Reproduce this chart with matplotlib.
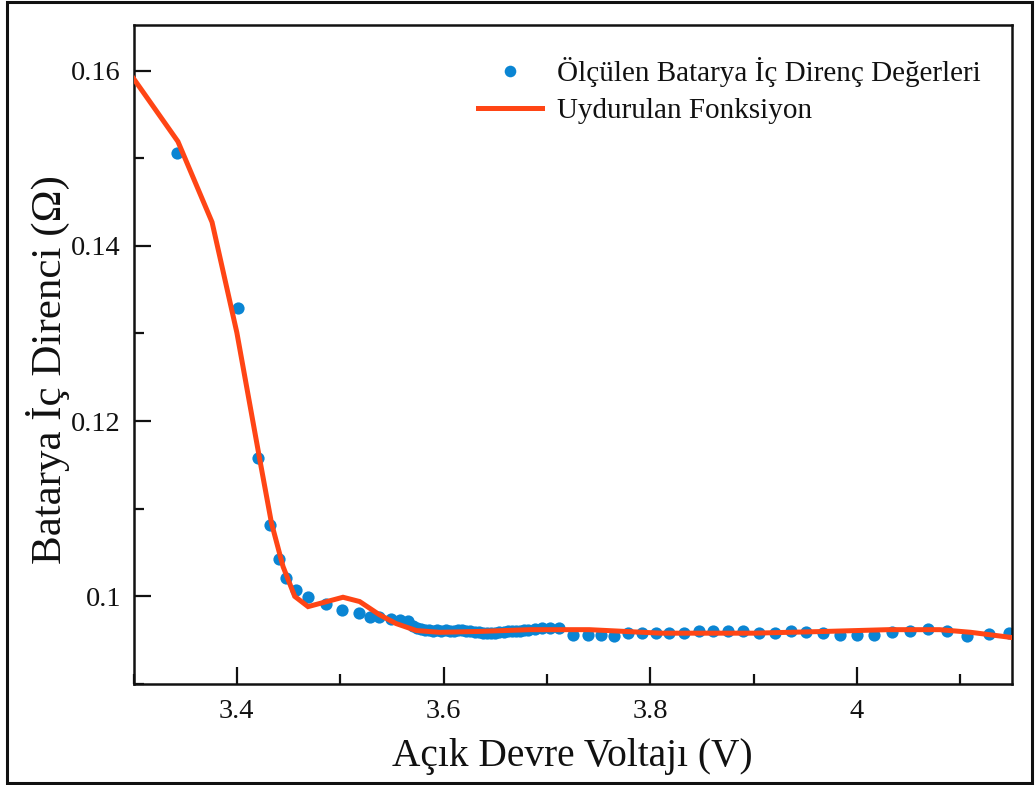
import matplotlib
matplotlib.use("Agg")
import matplotlib.pyplot as plt
from matplotlib.ticker import MultipleLocator, FuncFormatter
from matplotlib.patches import Rectangle

# Measured internal resistance vs open-circuit voltage
voltage = [
    3.342, 3.401, 3.420, 3.432, 3.441, 3.448, 3.457, 3.469, 3.486,
    3.5015, 3.518, 3.5285, 3.538, 3.5495, 3.5575, 3.566,
    3.570, 3.574, 3.578, 3.582, 3.586, 3.590, 3.594, 3.598, 3.602,
    3.606, 3.610, 3.614, 3.618, 3.622, 3.626, 3.630, 3.634, 3.638,
    3.642, 3.646, 3.650, 3.654, 3.658, 3.662, 3.666, 3.670, 3.674,
    3.678, 3.682, 3.688, 3.695, 3.703, 3.712,
    3.7256, 3.7394, 3.7524, 3.7652, 3.7787, 3.7920, 3.8055, 3.8184,
    3.8329, 3.8467, 3.8609, 3.8754, 3.8899, 3.9053, 3.9208, 3.9359,
    3.9510, 3.9675, 3.9836, 3.9997, 4.0164, 4.0335, 4.0509, 4.0689,
    4.0873, 4.1066, 4.1275, 4.1469,
]
resistance = [
    0.1506, 0.1329, 0.1158, 0.1081, 0.1043, 0.1021, 0.1007, 0.0999, 0.0991,
    0.09846, 0.09815, 0.0977, 0.09762, 0.0974, 0.0973, 0.0972,
    0.0966, 0.0964, 0.0963, 0.0962, 0.0962, 0.0961, 0.0962, 0.0961, 0.0962,
    0.0961, 0.0961, 0.0962, 0.0962, 0.0961, 0.0960, 0.0959, 0.0959, 0.0958,
    0.0958, 0.0958, 0.0958, 0.0959, 0.0959, 0.0960, 0.0960, 0.0961, 0.0961,
    0.0962, 0.0962, 0.0963, 0.0964, 0.0964, 0.0964,
    0.0956, 0.0956, 0.0956, 0.0955, 0.0958, 0.0958, 0.0958, 0.0958,
    0.0958, 0.0961, 0.0960, 0.0961, 0.0960, 0.0958, 0.0958, 0.0961,
    0.0959, 0.0958, 0.0956, 0.0956, 0.0956, 0.0959, 0.0960, 0.0963,
    0.0961, 0.0955, 0.0957, 0.0958,
]

# Fitted function evaluated on a coarse grid
fit_voltage = [
    3.300, 3.343, 3.376, 3.400, 3.4222, 3.4335, 3.4447, 3.456, 3.4689,
    3.5027, 3.5188, 3.538, 3.554, 3.5736, 3.596, 3.635, 3.683, 3.741,
    3.810, 3.900, 3.970, 4.030, 4.080, 4.110, 4.150,
]
fit_resistance = [
    0.1591, 0.1519, 0.1427, 0.1301, 0.1156, 0.10837, 0.1034, 0.1000, 0.09883,
    0.0999, 0.09941, 0.0979, 0.0969, 0.0961, 0.0959, 0.0960, 0.0962, 0.0962,
    0.0958, 0.0958, 0.0960, 0.0962, 0.0962, 0.0959, 0.0953,
]

x_label = "Açık Devre Voltajı (V)"
y_label = "Batarya İç Direnci (Ω)"
series_labels = ["Ölçülen Batarya İç Direnç Değerleri", "Uydurulan Fonksiyon"]

plt.rcParams["font.family"] = ["Liberation Serif", "DejaVu Serif"]

W, H = 1036, 785
fig = plt.figure(figsize=(W / 100, H / 100), dpi=100)
ax = fig.add_axes([133.5 / W, 1 - 684 / H, (1012 - 133.5) / W, (684 - 25) / H])

ax.plot(voltage, resistance, linestyle="none", marker="o", markersize=8.8,
        color="#0A85D3", markeredgewidth=0, label=series_labels[0], zorder=2)
ax.plot(fit_voltage, fit_resistance, color="#FF4515", linewidth=3.6,
        label=series_labels[1], zorder=3, solid_joinstyle="miter")

ax.set_xlim(3.3, 4.15)
ax.set_ylim(0.09, 0.1652)

ax.xaxis.set_major_locator(MultipleLocator(0.2))
ax.xaxis.set_minor_locator(MultipleLocator(0.1))
ax.yaxis.set_major_locator(MultipleLocator(0.02))
ax.yaxis.set_minor_locator(MultipleLocator(0.01))
fmt = FuncFormatter(lambda v, p: "%g" % round(v, 4))
ax.xaxis.set_major_formatter(fmt)
ax.yaxis.set_major_formatter(fmt)

ax.tick_params(which="both", direction="in", top=False, right=False,
               width=1.6, colors="#111111", labelsize=20.5)
ax.tick_params(which="major", length=12.5)
ax.tick_params(axis="x", which="major", pad=11)
ax.tick_params(axis="y", which="major", pad=9)
ax.tick_params(which="minor", length=7)
for s in ax.spines.values():
    s.set_linewidth(1.8)
    s.set_color("#111111")

ax.set_xlabel(x_label, fontsize=28.4, labelpad=10, color="#111111")
ax.set_ylabel(y_label, fontsize=31, color="#111111")
ax.yaxis.set_label_coords(-0.072, 0.477)

leg = ax.legend(loc="upper left", bbox_to_anchor=(478 / W, 1 - 57 / H),
                bbox_transform=fig.transFigure, frameon=False, fontsize=21,
                handlelength=2.2, handletextpad=0.5, borderpad=0,
                borderaxespad=0, labelspacing=0.36, markerscale=0.95)
for t in leg.get_texts():
    t.set_color("#111111")

# Border around the whole figure
fig.patches.append(Rectangle((7 / W, 2 / H), (1032 - 7) / W, (783 - 2) / H,
                             transform=fig.transFigure, fill=False,
                             edgecolor="#111111", linewidth=2.2))

fig.savefig("out.png", dpi=100)
